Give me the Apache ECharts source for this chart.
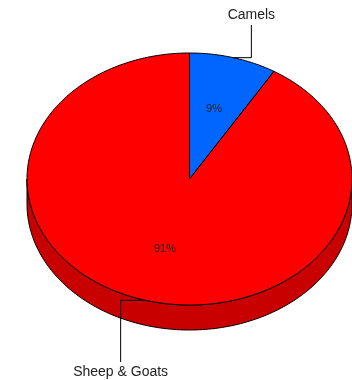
<!DOCTYPE html>
<html>
<head>
<meta charset="utf-8">
<script src="https://cdn.jsdelivr.net/npm/echarts@6/dist/echarts.min.js"></script>
<style>
html, body { margin: 0; padding: 0; background: #fff; }
#chart { width: 352px; height: 380px; }
</style>
</head>
<body>
<div id="chart"></div>
<script>
// data (percent labels are rounded)
var categories = ['Camels', 'Sheep & Goats'];
var shares = [8.7, 91.3];

// styles
var colors = ['#0066ff', '#ff0000'];
var sideColors = ['#0047b3', '#c80000'];
var labelFont = '14px "Liberation Sans", Arial, sans-serif';
var pctFont = '11px "Liberation Sans", Arial, sans-serif';

// tilted pie layout
var cx = 189.5, cy = 179, rx = 162.5, ry = 126, depth = 25;
var pctPos = [0.56, 0.58]; // inner label distance (x, y) as share of radius
// leader line: horizontal run from the rim, then vertical to the text
var leaders = [
    { dx: 18, endY: 25, textY: 15 },
    { dx: -25, endY: 362, textY: 372 }
];

var total = shares.reduce(function (a, b) { return a + b; }, 0);

function startAngle(i) {
    var s = 0;
    for (var k = 0; k < i; k++) s += shares[k];
    return s / total * Math.PI * 2;
}
// angle measured clockwise from 12 o'clock
function pt(a, kx, ky, dy) {
    return [cx + rx * kx * Math.sin(a), cy - ry * ky * Math.cos(a) + (dy || 0)];
}
function arc(a0, a1, dy) {
    var n = Math.max(2, Math.ceil((a1 - a0) / 0.02));
    var out = [];
    for (var j = 0; j <= n; j++) out.push(pt(a0 + (a1 - a0) * j / n, 1, 1, dy));
    return out;
}

function renderSide(params, api) {
    var i = params.dataIndex;
    var a0 = startAngle(i);
    var a1 = a0 + api.value(0) / total * Math.PI * 2;
    // only the front half of the rim is visible
    var b0 = Math.max(a0, Math.PI / 2), b1 = Math.min(a1, Math.PI * 1.5);
    if (b1 <= b0) return { type: 'group', children: [] };
    var pts = arc(b0, b1, 0).concat(arc(b0, b1, depth).reverse());
    return {
        type: 'polygon',
        shape: { points: pts },
        style: { fill: sideColors[i], stroke: '#000', lineWidth: 1 }
    };
}

function renderTop(params, api) {
    var i = params.dataIndex;
    var v = api.value(0);
    var a0 = startAngle(i);
    var a1 = a0 + v / total * Math.PI * 2;
    var mid = (a0 + a1) / 2;
    var inner = pt(mid, pctPos[0], pctPos[1]);
    var edge = pt(mid, 1, 1);
    var L = leaders[i];
    var elbow = [edge[0] + L.dx, edge[1]];
    return {
        type: 'group',
        children: [
            {
                type: 'polygon',
                shape: { points: [[cx, cy]].concat(arc(a0, a1, 0)) },
                style: { fill: colors[i], stroke: '#000', lineWidth: 1 }
            },
            {
                type: 'text', x: inner[0], y: inner[1],
                style: { text: Math.round(v / total * 100) + '%', font: pctFont, fill: '#222', align: 'center', verticalAlign: 'middle' }
            },
            {
                type: 'polyline',
                shape: { points: [edge, elbow, [elbow[0], L.endY]] },
                style: { stroke: '#000', lineWidth: 1, fill: null }
            },
            {
                type: 'text', x: elbow[0], y: L.textY,
                style: { text: categories[i], font: labelFont, fill: '#222', align: 'center', verticalAlign: 'middle' }
            }
        ]
    };
}

var seriesData = categories.map(function (c, i) { return { name: c, value: shares[i] }; });

var chart = echarts.init(document.getElementById('chart'));
chart.setOption({
    animation: false,
    series: [
        { type: 'custom', coordinateSystem: 'none', z: 2, renderItem: renderSide, data: seriesData },
        { type: 'custom', coordinateSystem: 'none', z: 3, renderItem: renderTop, data: seriesData }
    ]
});
</script>
</body>
</html>
